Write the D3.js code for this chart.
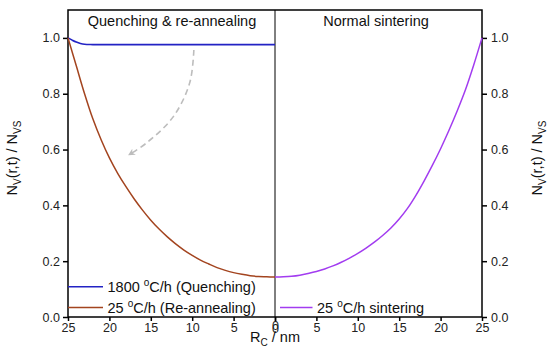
<!DOCTYPE html>
<html lang="en">
<head>
<meta charset="UTF-8">
<title>Nv(r,t) / Nvs</title>
<script src="https://d3js.org/d3.v7.min.js"></script>
<style>
  body { margin: 0; background: #fff; }
  svg { font-family: "Liberation Sans", Arial, sans-serif; }
  .tick text { font-size: 12.5px; fill: #222; }
  .tick line { stroke: #000; stroke-width: 1.5; }
</style>
</head>
<body>
<div id="chart"></div>
<script>
// radius values (nm)
var rValues = [25, 24, 23, 22, 21, 20, 19, 18, 17, 16, 15, 14, 13, 12, 11, 10, 9, 8, 7, 6, 5, 4, 3, 2, 1, 0];
// 25 C/h re-annealing (left panel)
var reanneal = [1.0, 0.9, 0.8, 0.71, 0.635, 0.57, 0.515, 0.467, 0.423, 0.383, 0.347, 0.315, 0.287, 0.262, 0.24, 0.221, 0.204, 0.19, 0.177, 0.167, 0.159, 0.153, 0.148, 0.145, 0.144, 0.143];
// 25 C/h sintering (right panel)
var sinter = [1.0, 0.903, 0.814, 0.738, 0.668, 0.603, 0.543, 0.487, 0.435, 0.389, 0.351, 0.319, 0.292, 0.268, 0.247, 0.228, 0.211, 0.196, 0.183, 0.172, 0.163, 0.156, 0.15, 0.146, 0.144, 0.143];
// 1800 C/h quenching (left panel)
var quenchR = [25, 24.5, 24, 23.5, 23, 22, 15, 10, 5, 0];
var quench = [1.0, 0.992, 0.985, 0.98, 0.977, 0.976, 0.976, 0.976, 0.976, 0.976];
// dashed arrow annotation (left panel coords)
var arrowR = [9.8, 10.3, 12.3, 15.5, 17.6];
var arrowV = [0.957, 0.839, 0.717, 0.624, 0.582];

var yTicks = [0, 0.2, 0.4, 0.6, 0.8, 1.0];
var xTicks = [25, 20, 15, 10, 5, 0];

var W = 550, H = 361;
var pLeft = 68, pMid = 275, pRight = 482, pTop = 10, pBottom = 317;

var svg = d3.select("#chart").append("svg")
  .attr("width", W).attr("height", H);

var y = d3.scaleLinear().domain([0, 1.1]).range([pBottom, pTop]);
var xL = d3.scaleLinear().domain([25, 0]).range([pLeft, pMid]);
var xR = d3.scaleLinear().domain([0, 25]).range([pMid, pRight]);

// axes
svg.append("g").attr("transform", "translate(" + pLeft + ",0)")
  .call(d3.axisLeft(y).tickValues(yTicks).tickSize(5).tickPadding(3).tickFormat(d3.format(".1f")));
svg.append("g").attr("transform", "translate(" + pRight + ",0)")
  .call(d3.axisRight(y).tickValues(yTicks).tickSize(5).tickPadding(4).tickFormat(d3.format(".1f")));
var axBL = svg.append("g").attr("transform", "translate(0," + pBottom + ")")
  .call(d3.axisBottom(xL).tickValues(xTicks).tickSize(4).tickPadding(2));
var axBR = svg.append("g").attr("transform", "translate(0," + pBottom + ")")
  .call(d3.axisBottom(xR).tickValues(xTicks).tickSize(4).tickPadding(2));
svg.selectAll(".domain").remove();
// the two "0" labels sit on top of each other, slightly offset
axBL.selectAll(".tick").filter(function (d) { return d === 0; }).select("text").attr("y", 4.5);
axBR.selectAll(".tick").filter(function (d) { return d === 0; }).select("text").attr("y", 7);

// frame
svg.append("rect")
  .attr("x", pLeft).attr("y", pTop)
  .attr("width", pRight - pLeft).attr("height", pBottom - pTop)
  .attr("fill", "none").attr("stroke", "#000").attr("stroke-width", 1.5);
svg.append("line")
  .attr("x1", pMid).attr("x2", pMid).attr("y1", pTop).attr("y2", pBottom)
  .attr("stroke", "#000").attr("stroke-width", 1);

// curves
var lineL = d3.line().x(function (d) { return xL(d[0]); }).y(function (d) { return y(d[1]); }).curve(d3.curveCatmullRom);
var lineR = d3.line().x(function (d) { return xR(d[0]); }).y(function (d) { return y(d[1]); }).curve(d3.curveCatmullRom);

svg.append("path")
  .attr("d", lineL(d3.zip(quenchR, quench)))
  .attr("fill", "none").attr("stroke", "#2323c4").attr("stroke-width", 1.6);
svg.append("path")
  .attr("d", lineL(d3.zip(rValues, reanneal)))
  .attr("fill", "none").attr("stroke", "#a3441f").attr("stroke-width", 1.5);
svg.append("path")
  .attr("d", lineR(d3.zip(rValues, sinter)))
  .attr("fill", "none").attr("stroke", "#a23cf0").attr("stroke-width", 1.5);

// dashed arrow
svg.append("defs").append("marker")
  .attr("id", "arrow").attr("viewBox", "0 0 10 10")
  .attr("refX", 8).attr("refY", 5)
  .attr("markerWidth", 7).attr("markerHeight", 7)
  .attr("markerUnits", "userSpaceOnUse")
  .attr("orient", "auto")
  .append("path").attr("d", "M0,0 L10,5 L0,10 L3,5 Z").attr("fill", "#bdbdbd");
svg.append("path")
  .attr("d", lineL(d3.zip(arrowR, arrowV)))
  .attr("fill", "none").attr("stroke", "#bdbdbd").attr("stroke-width", 1.6)
  .attr("stroke-dasharray", "6,4")
  .attr("marker-end", "url(#arrow)");

// panel titles
svg.append("text").attr("x", 172).attr("y", 25.5).attr("text-anchor", "middle")
  .attr("font-size", 14.5).attr("fill", "#111").text("Quenching & re-annealing");
svg.append("text").attr("x", 376).attr("y", 25.5).attr("text-anchor", "middle")
  .attr("font-size", 14.5).attr("fill", "#111").text("Normal sintering");

// legends
function legendItem(x1, x2, ly, color, rate, label) {
  svg.append("line").attr("x1", x1).attr("x2", x2).attr("y1", ly).attr("y2", ly)
    .attr("stroke", color).attr("stroke-width", 1.6);
  var t = svg.append("text").attr("x", x2 + 4.5).attr("y", ly + 5)
    .attr("font-size", 14.5).attr("fill", "#111");
  t.append("tspan").text(rate + " ");
  t.append("tspan").attr("dy", -5.5).attr("font-size", 10).text("o");
  t.append("tspan").attr("dy", 5.5).text("C/h " + label);
}
legendItem(68, 103, 286.7, "#2323c4", "1800", "(Quenching)");
legendItem(68, 103, 307.5, "#a3441f", "25", "(Re-annealing)");
legendItem(280, 312.5, 307.5, "#a23cf0", "25", "sintering");

// y labels
function yLabel(x) {
  var t = svg.append("text")
    .attr("transform", "translate(" + x + ",158) rotate(-90)")
    .attr("text-anchor", "middle").attr("font-size", 14.5).attr("fill", "#111");
  t.append("tspan").text("N");
  t.append("tspan").attr("dy", 3.5).attr("font-size", 10).text("V");
  t.append("tspan").attr("dy", -3.5).text("(r,t) / N");
  t.append("tspan").attr("dy", 3.5).attr("font-size", 10).text("VS");
}
yLabel(17);
yLabel(542);

// x label
var xl = svg.append("text").attr("x", 275).attr("y", 342)
  .attr("text-anchor", "middle").attr("font-size", 14.5).attr("fill", "#111");
xl.append("tspan").text("R");
xl.append("tspan").attr("dy", 3.5).attr("font-size", 10).text("C");
xl.append("tspan").attr("dy", -3.5).text(" / nm");
</script>
</body>
</html>
